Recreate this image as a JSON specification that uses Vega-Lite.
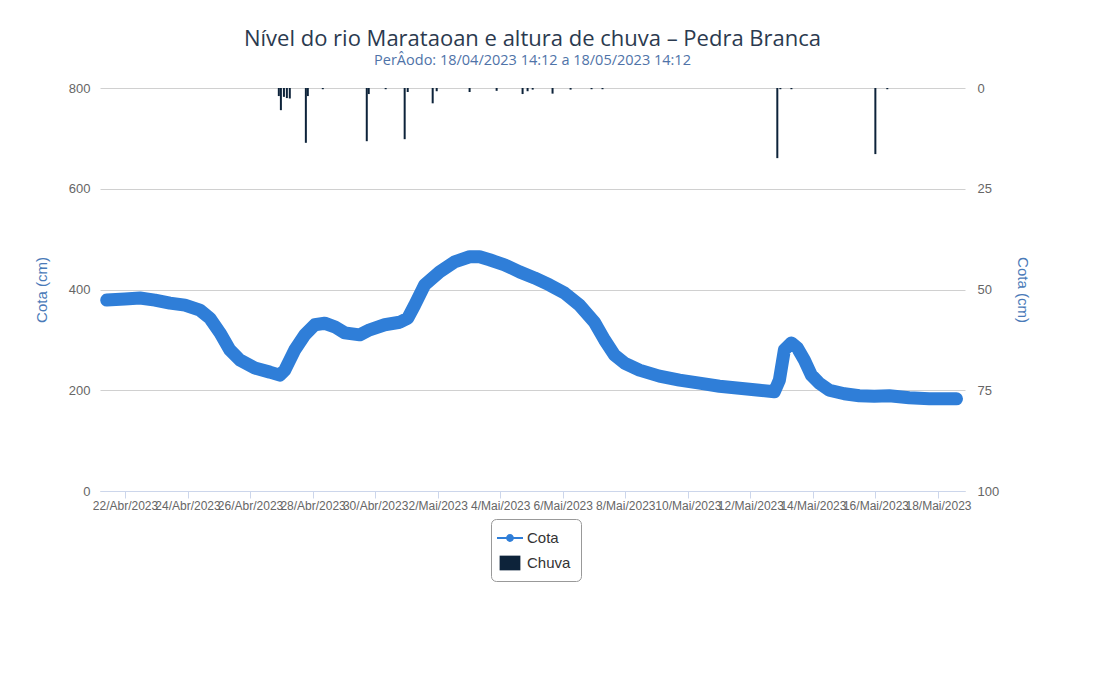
{
  "$schema": "https://vega.github.io/schema/vega-lite/v6.json",
  "width": 865,
  "height": 403,
  "autosize": {"type": "none"},
  "padding": {"left": 100, "top": 88, "right": 138, "bottom": 202},
  "background": "white",
  "config": {"view": {"stroke": null}, "font": "Liberation Sans"},
  "title": {
    "text": "Nível do rio Marataoan e altura de chuva – Pedra Branca",
    "subtitle": "PerÂodo: 18/04/2023 14:12 a 18/05/2023 14:12",
    "anchor": "middle",
    "font": "Open Sans",
    "fontSize": 22,
    "fontWeight": "normal",
    "color": "#2b3a4f",
    "subtitleFont": "Open Sans",
    "subtitleFontSize": 14.5,
    "subtitleColor": "#4f73a8",
    "subtitlePadding": 3,
    "offset": 14
  },
  "datasets": {
    "cota": [
      {"t": "2023-04-21T10:00", "cota": 379},
      {"t": "2023-04-22T00:00", "cota": 381},
      {"t": "2023-04-22T11:30", "cota": 383},
      {"t": "2023-04-22T23:00", "cota": 379},
      {"t": "2023-04-23T10:30", "cota": 373},
      {"t": "2023-04-23T22:00", "cota": 369},
      {"t": "2023-04-24T09:30", "cota": 359},
      {"t": "2023-04-24T17:10", "cota": 343},
      {"t": "2023-04-25T00:55", "cota": 314},
      {"t": "2023-04-25T08:30", "cota": 280},
      {"t": "2023-04-25T16:10", "cota": 260},
      {"t": "2023-04-26T03:40", "cota": 244},
      {"t": "2023-04-26T15:10", "cota": 236},
      {"t": "2023-04-26T22:50", "cota": 230},
      {"t": "2023-04-27T02:40", "cota": 240},
      {"t": "2023-04-27T10:20", "cota": 280},
      {"t": "2023-04-27T18:00", "cota": 310},
      {"t": "2023-04-28T01:40", "cota": 330},
      {"t": "2023-04-28T09:20", "cota": 333},
      {"t": "2023-04-28T17:00", "cota": 326},
      {"t": "2023-04-29T00:40", "cota": 314},
      {"t": "2023-04-29T12:10", "cota": 310},
      {"t": "2023-04-29T19:50", "cota": 320},
      {"t": "2023-04-30T07:20", "cota": 330},
      {"t": "2023-04-30T18:50", "cota": 335},
      {"t": "2023-05-01T01:00", "cota": 343},
      {"t": "2023-05-01T06:20", "cota": 369},
      {"t": "2023-05-01T14:00", "cota": 409},
      {"t": "2023-05-02T01:30", "cota": 435},
      {"t": "2023-05-02T13:00", "cota": 455},
      {"t": "2023-05-03T00:30", "cota": 465},
      {"t": "2023-05-03T08:10", "cota": 465},
      {"t": "2023-05-03T15:50", "cota": 459},
      {"t": "2023-05-04T03:20", "cota": 449},
      {"t": "2023-05-04T14:50", "cota": 435},
      {"t": "2023-05-05T02:20", "cota": 423},
      {"t": "2023-05-05T13:50", "cota": 409},
      {"t": "2023-05-06T01:20", "cota": 393},
      {"t": "2023-05-06T12:50", "cota": 369},
      {"t": "2023-05-07T00:20", "cota": 335},
      {"t": "2023-05-07T08:05", "cota": 300},
      {"t": "2023-05-07T15:40", "cota": 270},
      {"t": "2023-05-07T23:20", "cota": 254},
      {"t": "2023-05-08T10:50", "cota": 240},
      {"t": "2023-05-09T02:10", "cota": 228},
      {"t": "2023-05-09T17:35", "cota": 220},
      {"t": "2023-05-10T08:55", "cota": 214},
      {"t": "2023-05-11T00:15", "cota": 208},
      {"t": "2023-05-11T15:35", "cota": 204},
      {"t": "2023-05-12T06:55", "cota": 200},
      {"t": "2023-05-12T18:25", "cota": 197},
      {"t": "2023-05-12T22:15", "cota": 220},
      {"t": "2023-05-13T02:05", "cota": 280},
      {"t": "2023-05-13T07:30", "cota": 294},
      {"t": "2023-05-13T12:05", "cota": 284},
      {"t": "2023-05-13T17:25", "cota": 260},
      {"t": "2023-05-13T22:50", "cota": 230},
      {"t": "2023-05-14T04:55", "cota": 214},
      {"t": "2023-05-14T12:35", "cota": 200},
      {"t": "2023-05-15T00:05", "cota": 193},
      {"t": "2023-05-15T11:35", "cota": 189},
      {"t": "2023-05-15T23:05", "cota": 188},
      {"t": "2023-05-16T10:35", "cota": 189},
      {"t": "2023-05-17T01:55", "cota": 185},
      {"t": "2023-05-17T17:15", "cota": 183},
      {"t": "2023-05-18T14:12", "cota": 183}
    ],
    "chuva": [
      {"t": "2023-04-26T22:05", "mm": 2.0},
      {"t": "2023-04-26T23:40", "mm": 5.5},
      {"t": "2023-04-27T02:00", "mm": 2.2},
      {"t": "2023-04-27T04:15", "mm": 2.5},
      {"t": "2023-04-27T06:30", "mm": 2.6},
      {"t": "2023-04-27T18:50", "mm": 13.6},
      {"t": "2023-04-27T20:20", "mm": 2.0},
      {"t": "2023-04-28T07:50", "mm": 0.3},
      {"t": "2023-04-29T17:35", "mm": 13.2},
      {"t": "2023-04-29T19:05", "mm": 1.5},
      {"t": "2023-04-30T08:05", "mm": 0.3},
      {"t": "2023-04-30T22:40", "mm": 12.7},
      {"t": "2023-05-01T01:00", "mm": 1.0},
      {"t": "2023-05-01T20:10", "mm": 3.8},
      {"t": "2023-05-01T23:15", "mm": 0.8},
      {"t": "2023-05-03T00:30", "mm": 1.0},
      {"t": "2023-05-03T21:15", "mm": 0.7},
      {"t": "2023-05-04T17:10", "mm": 1.5},
      {"t": "2023-05-04T21:00", "mm": 0.8},
      {"t": "2023-05-05T00:55", "mm": 0.4},
      {"t": "2023-05-05T16:10", "mm": 1.4},
      {"t": "2023-05-06T06:00", "mm": 0.4},
      {"t": "2023-05-06T22:05", "mm": 0.3},
      {"t": "2023-05-07T06:30", "mm": 0.3},
      {"t": "2023-05-12T20:40", "mm": 17.4},
      {"t": "2023-05-12T23:00", "mm": 0.3},
      {"t": "2023-05-13T07:30", "mm": 0.3},
      {"t": "2023-05-15T23:55", "mm": 16.4},
      {"t": "2023-05-16T09:05", "mm": 0.3}
    ]
  },
  "encoding": {
    "x": {
      "field": "t",
      "type": "temporal",
      "title": null,
      "scale": {
        "nice": false,
        "padding": 0,
        "domain": [
          {"year": 2023, "month": "apr", "date": 21, "hours": 4, "minutes": 50},
          {"year": 2023, "month": "may", "date": 18, "hours": 20, "minutes": 43}
        ]
      },
      "axis": {
        "values": [
          {"year": 2023, "month": "apr", "date": 22},
          {"year": 2023, "month": "apr", "date": 24},
          {"year": 2023, "month": "apr", "date": 26},
          {"year": 2023, "month": "apr", "date": 28},
          {"year": 2023, "month": "apr", "date": 30},
          {"year": 2023, "month": "may", "date": 2},
          {"year": 2023, "month": "may", "date": 4},
          {"year": 2023, "month": "may", "date": 6},
          {"year": 2023, "month": "may", "date": 8},
          {"year": 2023, "month": "may", "date": 10},
          {"year": 2023, "month": "may", "date": 12},
          {"year": 2023, "month": "may", "date": 14},
          {"year": 2023, "month": "may", "date": 16},
          {"year": 2023, "month": "may", "date": 18}
        ],
        "labelExpr": "date(datum.value) + '/' + (month(datum.value) == 3 ? 'Abr' : 'Mai') + '/2023'",
        "labelOverlap": false,
        "labelBound": false,
        "labelFlush": false,
        "labelAngle": 0,
        "labelFontSize": 12,
        "labelColor": "#666666",
        "labelPadding": 2,
        "grid": false,
        "domainColor": "#ccd6eb",
        "tickColor": "#ccd6eb",
        "tickSize": 7
      }
    }
  },
  "layer": [
    {
      "data": {"name": "chuva"},
      "mark": {"type": "bar", "size": 2},
      "encoding": {
        "y": {
          "field": "mm",
          "type": "quantitative",
          "scale": {"domain": [0, 100], "reverse": true},
          "axis": {
            "orient": "right",
            "values": [0, 25, 50, 75, 100],
            "title": "Cota (cm)",
            "titleColor": "#4a7ab8",
            "titleFontSize": 15,
            "titleFontWeight": "normal",
            "titlePadding": 16,
            "labelColor": "#666666",
            "labelFontSize": 13,
            "labelPadding": 12,
            "grid": false,
            "domain": false,
            "ticks": false
          }
        },
        "color": {
          "datum": "Chuva",
          "scale": {"domain": ["Cota", "Chuva"], "range": ["#2f7ed8", "#0d233a"]},
          "legend": {
            "title": null,
            "orient": "none",
            "legendX": 391,
            "legendY": 431,
            "direction": "vertical",
            "strokeColor": "#999999",
            "cornerRadius": 5,
            "padding": 10,
            "rowPadding": 8,
            "labelFontSize": 15,
            "labelColor": "#333333",
            "symbolSize": 300,
            "labelOffset": 8,
            "encode": {
              "symbols": {
                "update": {
                  "shape": {"signal": "datum.value === 'Cota' ? 'M-1.5,-0.12L1.5,-0.12L1.5,0.12L-1.5,0.12Z M-0.45,0A0.45,0.45 0 1,1 0.45,0A0.45,0.45 0 1,1 -0.45,0Z' : 'M-1.2,-0.85L1.2,-0.85L1.2,0.85L-1.2,0.85Z'"},
                  "fill": {"signal": "datum.value === 'Cota' ? '#2f7ed8' : '#0d233a'"},
                  "stroke": {"signal": "datum.value === 'Cota' ? '#2f7ed8' : '#0d233a'"},
                  "strokeWidth": {"value": 0},
                  "opacity": {"value": 1},
                  "fillOpacity": {"value": 1}
                }
              }
            }
          }
        }
      }
    },
    {
      "data": {"name": "cota"},
      "mark": {"type": "line", "strokeWidth": 13, "strokeCap": "round", "strokeJoin": "round"},
      "encoding": {
        "y": {
          "field": "cota",
          "type": "quantitative",
          "scale": {"domain": [0, 800]},
          "axis": {
            "orient": "left",
            "values": [0, 200, 400, 600, 800],
            "title": "Cota (cm)",
            "titleColor": "#4a7ab8",
            "titleFontSize": 15,
            "titleFontWeight": "normal",
            "titlePadding": 19,
            "labelColor": "#666666",
            "labelFontSize": 13,
            "labelPadding": 10,
            "grid": true,
            "gridColor": "#d0d0d0",
            "domain": false,
            "ticks": false
          }
        },
        "color": {"datum": "Cota"}
      }
    }
  ],
  "resolve": {"scale": {"y": "independent"}}
}
